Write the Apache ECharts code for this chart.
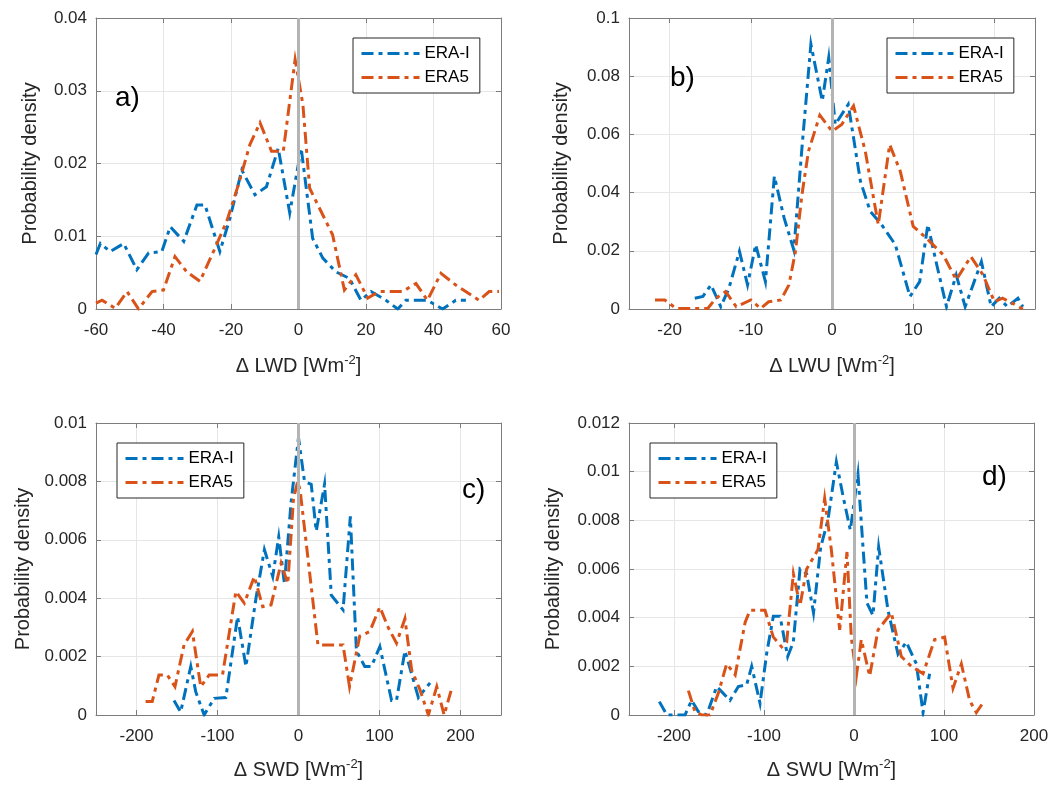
<!DOCTYPE html>
<html>
<head>
<meta charset="utf-8">
<script src="https://cdn.jsdelivr.net/npm/echarts@6/dist/echarts.min.js"></script>
<style>
html,body{margin:0;padding:0;background:#fff;}
#chart{width:1056px;height:789px;}
</style>
</head>
<body>
<div id="chart"></div>
<script>
// ---------------- DATA ----------------
const seriesNames = ['ERA-I', 'ERA5'];
const panelLabels = ['a)', 'b)', 'c)', 'd)'];
const xTitles = ['LWD', 'LWU', 'SWD', 'SWU'];

// panel a : Δ LWD
const lwdEraI = [[-60,0.0075],[-58.7,0.009],[-55.8,0.0079],[-51.8,0.009],[-47.9,0.0054],[-44.4,0.0077],[-40.5,0.0079],[-38,0.0113],[-34,0.0093],[-30.1,0.0143],[-27.7,0.0143],[-23.3,0.0079],[-20.3,0.0125],[-16.8,0.0191],[-12.9,0.0157],[-9.5,0.0168],[-6,0.0221],[-2.6,0.0132],[0.8,0.0221],[2.3,0.0166],[4.2,0.0097],[7.2,0.007],[11.1,0.0051],[15.1,0.0042],[18.5,0.0012],[21.5,0.0024],[25.9,0.0012],[29.4,0],[31.8,0.0012],[38.2,0.0012],[42.7,0],[46.6,0.0012],[49.6,0.0012]];
const lwdEra5 = [[-60,0.0008],[-58.2,0.0012],[-54.3,0.0001],[-50.8,0.0024],[-47.4,0],[-43.4,0.0024],[-40,0.0026],[-36.6,0.0072],[-33.1,0.0051],[-29.2,0.0038],[-25.2,0.0079],[-21.3,0.012],[-17.8,0.0171],[-14.4,0.0226],[-11.4,0.0256],[-8,0.0217],[-4.5,0.0217],[-1,0.0343],[1.3,0.0281],[3.3,0.0166],[6.7,0.0134],[10.1,0.0102],[13.6,0.0026],[17,0.0047],[20.5,0.0015],[23.9,0.0024],[30.8,0.0024],[34.8,0.0035],[38.2,0.0012],[42.2,0.0049],[46.6,0.0033],[53.5,0.0012],[56.5,0.0024],[59.4,0.0024]];

// panel b : Δ LWU
const lwuEraI = [[-16.9,0.0037],[-15.9,0.0043],[-14.9,0.0083],[-13.7,0.0008],[-12.7,0.0071],[-11.4,0.0198],[-10.4,0.0083],[-9.4,0.0221],[-8.2,0.0094],[-7.1,0.0456],[-5.9,0.0313],[-4.7,0.0203],[-3.7,0.0554],[-2.6,0.091],[-1.2,0.0715],[-0.4,0.0864],[0.4,0.0634],[2.0,0.0703],[3.5,0.0439],[4.7,0.0336],[6.1,0.029],[7.8,0.0221],[9.6,0.0043],[10.8,0.0094],[11.8,0.029],[12.9,0.0152],[14.1,0.0008],[15.3,0.0117],[16.4,0.0008],[18.4,0.0163],[19.6,0.0008],[20.6,0.0037],[21.6,0.0008],[22.9,0.0037],[23.5,0.0008]];
const lwuEra5 = [[-21.8,0.0031],[-20.6,0.0031],[-19.2,0.0002],[-17.6,0.0002],[-15.3,0.0002],[-14.3,0.0037],[-13.1,0.006],[-11.8,0.0008],[-10,0.0031],[-8.8,0.0002],[-7.8,0.0025],[-6.3,0.0031],[-5.3,0.0083],[-4.5,0.0198],[-3.7,0.0393],[-2.9,0.0542],[-1.5,0.0666],[0,0.0611],[1.2,0.0634],[2.65,0.0698],[4.1,0.0542],[5.7,0.029],[7.1,0.0565],[8.4,0.0474],[10,0.0284],[11.6,0.0244],[13.7,0.0186],[15.3,0.01],[17.1,0.018],[18.6,0.0117],[20,0.0025],[21,0.0037],[22.2,0.002],[23.5,0]];

// panel c : Δ SWD
const swdEraI = [[-153.7,0.0005],[-145.5,0.0001],[-133,0.00166],[-126.9,0.0008],[-116.5,0],[-104,0.00057],[-89.7,0.0006],[-75.2,0.00337],[-64.9,0.00166],[-52.5,0.004],[-42.1,0.00566],[-31.8,0.00474],[-24.4,0.0061],[-17.4,0.0045],[-9.1,0.0073],[0,0.0095],[7.4,0.008],[15.7,0.0079],[21.9,0.0063],[32.2,0.0079],[40.5,0.0041],[55,0.0036],[64,0.0068],[71.5,0.0022],[81.8,0.00166],[90,0.00166],[100.4,0.00234],[114.9,0.0005],[121,0.0005],[131.4,0.0022],[148,0.0006],[162.4,0.0011]];
const swdEra5 = [[-188.8,0.00046],[-180.6,0.00046],[-172.3,0.00137],[-162,0.00137],[-152.5,0.00097],[-141.3,0.0024],[-131,0.00286],[-120.7,0.00097],[-110.3,0.00137],[-93.8,0.00137],[-77.3,0.00423],[-66.9,0.00383],[-54.5,0.00474],[-44.2,0.00371],[-33.9,0.00377],[-21.5,0.0052],[-13.2,0.0045],[-6.2,0.0074],[-1,0.008],[2,0.0077],[24,0.0024],[55,0.0024],[63,0.00097],[75.6,0.0027],[88,0.00286],[100.4,0.0037],[110.7,0.003],[121,0.00246],[131.4,0.0033],[139.7,0.00154],[150,0.00086],[160.3,0],[170.7,0.00097],[179.8,0],[189,0.0009]];

// panel d : Δ SWU
const swuEraI = [[-216.3,0.00055],[-208,0],[-187.8,0],[-180.4,0.0006],[-173,0.00014],[-163.7,0],[-152.6,0.00117],[-137.8,0.0006],[-128.5,0.00117],[-119.3,0.00124],[-113.7,0.002],[-104.4,0.00048],[-97,0.00254],[-89.6,0.00406],[-82.2,0.00406],[-73.7,0.0024],[-67.4,0.003],[-60,0.006],[-52.6,0.0058],[-45,0.0042],[-37,0.0069],[-29,0.008],[-19.6,0.0104],[-12.2,0.009],[-4.1,0.0076],[-1.1,0.0084],[4.4,0.0099],[10,0.0069],[14.4,0.0046],[21.1,0.0041],[27.4,0.0069],[37.8,0.0043],[48.9,0.0025],[58.1,0.003],[69.3,0.0021],[76.7,0.0001],[84,0.0017]];
const swuEra5 = [[-184,0.001],[-176.7,0.00014],[-169,0],[-160,0],[-150.7,0.0009],[-141.5,0.0021],[-132,0.00165],[-121,0.0038],[-115.6,0.0043],[-98.9,0.0043],[-89.6,0.0032],[-80.4,0.0028],[-74.8,0.003],[-67.4,0.0058],[-60,0.0045],[-52.6,0.006],[-40,0.0068],[-32.6,0.0089],[-25.2,0.0068],[-15.9,0.0035],[-7.8,0.0067],[-3,0.0032],[2.6,0.0016],[8.1,0.0031],[17.4,0.0016],[26.7,0.0035],[41.5,0.0042],[52.6,0.0024],[63.7,0.002],[76.7,0.0017],[89.6,0.0031],[100.7,0.0032],[110,0.0011],[119.3,0.0021],[128.5,0.0006],[135.9,0.0001],[143.3,0.0005]];

// axis ranges / ticks
const xMins = [-60, -25, -250, -250];
const xMaxs = [60, 25, 250, 200];
const yMaxs = [0.04, 0.1, 0.01, 0.012];
const yIntervals = [0.01, 0.02, 0.002, 0.002];

// ---------------- LAYOUT / STYLE ----------------
const FONT = '"Liberation Sans", Arial, Helvetica, sans-serif';
const BLUE = '#0072BD', ORANGE = '#D95319';
const AXIS_C = '#7d7d7d', GRID_C = '#e6e6e6', TEXT_C = '#262626';
const grids = [
  {left: 96, top: 18, width: 405, height: 291},
  {left: 629, top: 18, width: 406, height: 291},
  {left: 96, top: 423, width: 405, height: 292},
  {left: 629, top: 423, width: 405, height: 292}
];
const yNameGaps = [56, 58, 63, 66];
const xNameGaps = [45, 45, 43, 43];
const legendPos = [[353, 38], [887, 38], [117, 443], [650, 443]];
const labelPos = [[115, 84], [670, 64], [462, 476], [982, 463]];
const panelData = [[lwdEraI, lwdEra5], [lwuEraI, lwuEra5], [swdEraI, swdEra5], [swuEraI, swuEra5]];

const dash = [12, 5, 4, 5];
const xAxes = [], yAxes = [], series = [], legends = [], graphics = [];

for (let i = 0; i < 4; i++) {
  const useInterval = (i === 0);
  const common = {
    type: 'value', gridIndex: i, min: xMins[i], max: xMaxs[i],
    axisLine: {show: true, onZero: false, lineStyle: {color: AXIS_C, width: 1}},
    axisTick: {show: true, inside: true, length: 5, lineStyle: {color: AXIS_C}}
  };
  if (useInterval) common.interval = 20; else common.splitNumber = 5;
  xAxes.push(Object.assign({}, common, {
    position: 'bottom',
    axisLabel: {color: TEXT_C, fontSize: 17, fontFamily: FONT, margin: 13,
      showMinLabel: (i === 0), showMaxLabel: (i === 0 || i === 3)},
    splitLine: {show: true, lineStyle: {color: GRID_C, width: 1}},
    name: '{n|\u0394 ' + xTitles[i] + ' [Wm}{s|-2}{n|]}',
    nameLocation: 'middle', nameGap: xNameGaps[i],
    nameTextStyle: {rich: {
      n: {fontSize: 20, color: TEXT_C, fontFamily: FONT, lineHeight: 24},
      s: {fontSize: 13, color: TEXT_C, fontFamily: FONT, verticalAlign: 'top', lineHeight: 14}
    }}
  }));
  xAxes.push(Object.assign({}, common, {
    position: 'top', axisLabel: {show: false}, splitLine: {show: false}
  }));
  const ycommon = {
    type: 'value', gridIndex: i, min: 0, max: yMaxs[i], interval: yIntervals[i],
    axisLine: {show: true, onZero: false, lineStyle: {color: AXIS_C, width: 1}},
    axisTick: {show: true, inside: true, length: 5, lineStyle: {color: AXIS_C}}
  };
  yAxes.push(Object.assign({}, ycommon, {
    position: 'left',
    axisLabel: {color: TEXT_C, fontSize: 17, fontFamily: FONT, margin: 9},
    splitLine: {show: true, lineStyle: {color: GRID_C, width: 1}},
    name: 'Probability density', nameLocation: 'middle', nameGap: yNameGaps[i],
    nameTextStyle: {fontSize: 20, color: TEXT_C, fontFamily: FONT}
  }));
  yAxes.push(Object.assign({}, ycommon, {
    position: 'right', axisLabel: {show: false}, splitLine: {show: false}
  }));

  const colors = [BLUE, ORANGE];
  for (let s = 0; s < 2; s++) {
    series.push({
      type: 'line', name: seriesNames[s], xAxisIndex: 2 * i, yAxisIndex: 2 * i,
      data: panelData[i][s], showSymbol: false, symbol: 'none', animation: false,
      color: colors[s], z: 3,
      lineStyle: {color: colors[s], width: 3, type: dash, cap: 'butt', join: 'miter'}
    });
  }
  // zero reference line
  series.push({
    type: 'line', name: 'zero', xAxisIndex: 2 * i, yAxisIndex: 2 * i, data: [],
    animation: false, z: 2,
    markLine: {silent: true, symbol: ['none', 'none'], label: {show: false},
      lineStyle: {color: '#b4b4b4', width: 3, type: 'solid'},
      data: [{xAxis: 0}], animation: false}
  });

  legends.push({
    data: seriesNames, orient: 'vertical', left: legendPos[i][0], top: legendPos[i][1],
    backgroundColor: '#fff', borderColor: '#262626', borderWidth: 1, borderRadius: 0,
    padding: [7, 10, 7, 7], itemGap: 7, itemWidth: 58, itemHeight: 17,
    selectedMode: false,
    itemStyle: {color: 'rgba(0,0,0,0)', borderWidth: 0, opacity: 0},
    lineStyle: {width: 3, type: dash, cap: 'butt'},
    textStyle: {fontSize: 17, color: '#000', fontFamily: FONT}
  });

  graphics.push({
    type: 'text', left: labelPos[i][0], top: labelPos[i][1], z: 10,
    style: {text: panelLabels[i], fontSize: 28, fill: '#000', font: '28px ' + FONT}
  });
}

const chart = echarts.init(document.getElementById('chart'), null, {renderer: 'canvas'});
chart.setOption({
  animation: false,
  backgroundColor: '#fff',
  grid: grids.map(g => Object.assign({containLabel: false}, g)),
  xAxis: xAxes,
  yAxis: yAxes,
  legend: legends,
  series: series,
  graphic: graphics
});
</script>
</body>
</html>
